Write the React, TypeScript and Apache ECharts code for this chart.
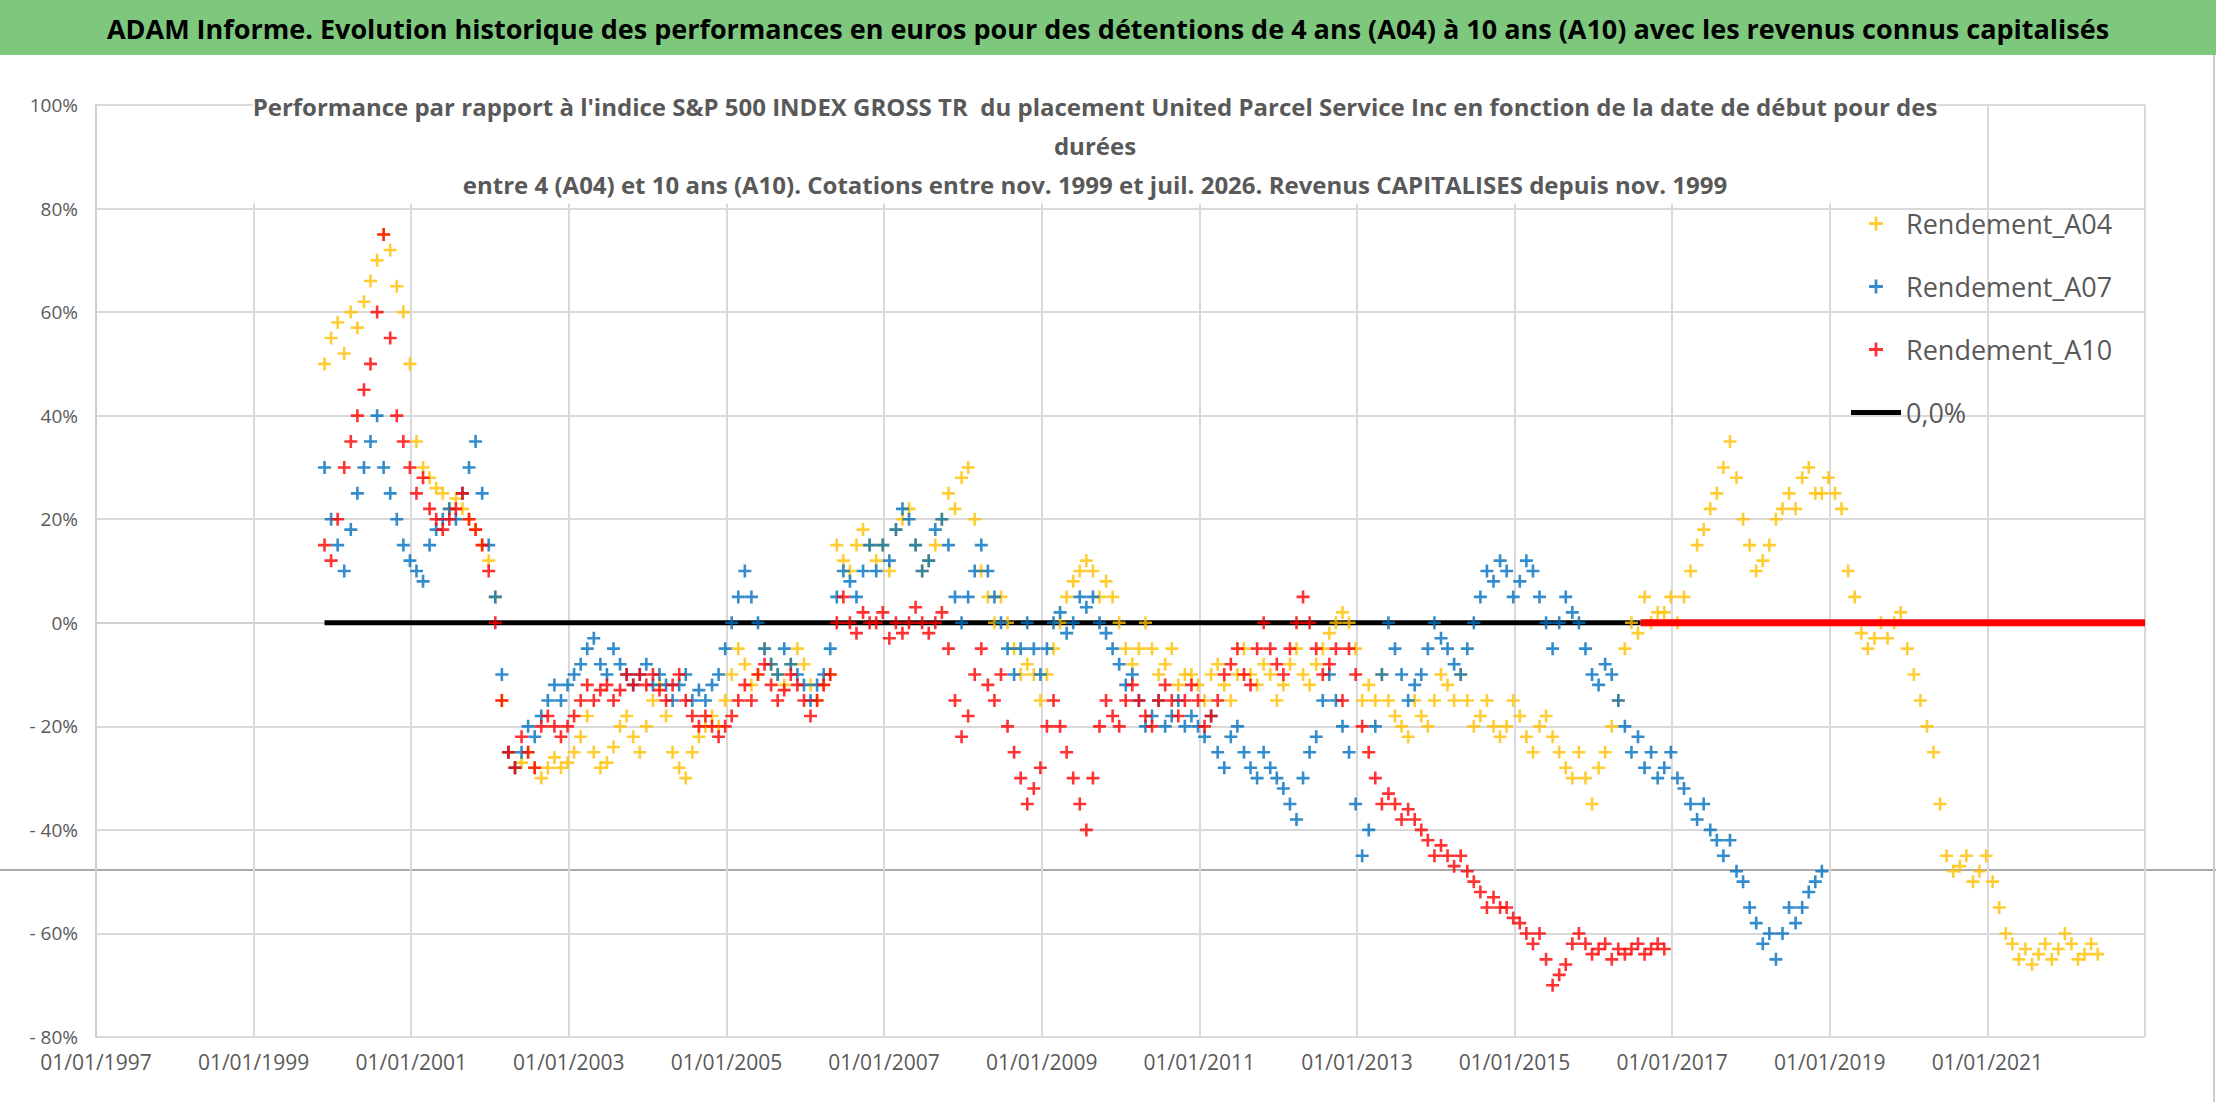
import React, { useEffect, useRef } from 'react';
import * as echarts from 'echarts';

// monthly values (%), first month = start year
const startA04 = 1999.9;
const rendementA04 = [
  50, 55, 58, 52, 60, 57, 62, 66, 70, 75, 72, 65,
  60, 50, 35, 30, 28, 26, 25, 22, 24, 22, 20, 18,
  15, 12, 5, -15, -25, -28, -27, -25, -28, -30, -28, -26,
  -28, -27, -25, -22, -18, -25, -28, -27, -24, -20, -18, -22,
  -25, -20, -15, -12, -18, -25, -28, -30, -25, -22, -20, -18,
  -20, -15, -10, -5, -8, -12, -10, -5, -8, -10, -12, -8,
  -5, -8, -12, -15, -12, -10, 15, 12, 10, 15, 18, 15,
  12, 15, 10, 18, 20, 22, 15, 10, 12, 15, 20, 25,
  22, 28, 30, 20, 10, 5, 0, 5, 0, -5, -10, -8,
  -10, -15, -10, -5, 0, 5, 8, 10, 12, 10, 5, 8,
  5, 0, -5, -8, -5, 0, -5, -10, -8, -5, -12, -10,
  -10, -12, -15, -10, -8, -12, -15, -10, -5, -10, -12, -8,
  -10, -15, -12, -8, -5, -10, -12, -8, -5, -2, 0, 2,
  0, -5, -15, -12, -15, -10, -15, -18, -20, -22, -15, -18,
  -20, -15, -10, -12, -15, -10, -15, -20, -18, -15, -20, -22,
  -20, -15, -18, -22, -25, -20, -18, -22, -25, -28, -30, -25,
  -30, -35, -28, -25, -20, -15, -5, 0, -2, 5, 0, 2,
  2, 5, 0, 5, 10, 15, 18, 22, 25, 30, 35, 28,
  20, 15, 10, 12, 15, 20, 22, 25, 22, 28, 30, 25,
  25, 28, 25, 22, 10, 5, -2, -5, -3, 0, -3, 0,
  2, -5, -10, -15, -20, -25, -35, -45, -48, -47, -45, -50,
  -48, -45, -50, -55, -60, -62, -65, -63, -66, -64, -62, -65,
  -63, -60, -62, -65, -64, -62, -64,
];

const startA07 = 1999.9;
const rendementA07 = [
  30, 20, 15, 10, 18, 25, 30, 35, 40, 30, 25, 20,
  15, 12, 10, 8, 15, 18, 20, 22, 20, 25, 30, 35,
  25, 15, 5, -10, -25, -28, -25, -20, -22, -18, -15, -12,
  -15, -12, -10, -8, -5, -3, -8, -10, -5, -8, -10, -12,
  -10, -8, -12, -10, -12, -15, -12, -10, -15, -13, -15, -12,
  -10, -5, 0, 5, 10, 5, 0, -5, -8, -10, -5, -8,
  -10, -12, -15, -12, -10, -5, 5, 10, 8, 5, 10, 15,
  10, 15, 12, 18, 22, 20, 15, 10, 12, 18, 20, 15,
  5, 0, 5, 10, 15, 10, 5, 0, -5, -10, -5, 0,
  -5, -10, -5, 0, 2, -2, 0, 5, 3, 5, 0, -2,
  -5, -8, -12, -10, -15, -20, -18, -15, -20, -18, -15, -20,
  -18, -20, -22, -18, -25, -28, -22, -20, -25, -28, -30, -25,
  -28, -30, -32, -35, -38, -30, -25, -22, -15, -10, -15, -20,
  -25, -35, -45, -40, -20, -10, 0, -5, -10, -15, -12, -10,
  -5, 0, -3, -5, -8, -10, -5, 0, 5, 10, 8, 12,
  10, 5, 8, 12, 10, 5, 0, -5, 0, 5, 2, 0,
  -5, -10, -12, -8, -10, -15, -20, -25, -22, -28, -25, -30,
  -28, -25, -30, -32, -35, -38, -35, -40, -42, -45, -42, -48,
  -50, -55, -58, -62, -60, -65, -60, -55, -58, -55, -52, -50,
  -48,
];

const startA10 = 1999.9;
const rendementA10 = [
  15, 12, 20, 30, 35, 40, 45, 50, 60, 75, 55, 40,
  35, 30, 25, 28, 22, 20, 18, 20, 22, 25, 20, 18,
  15, 10, 0, -15, -25, -28, -22, -25, -28, -20, -18, -20,
  -22, -20, -18, -15, -12, -15, -13, -12, -15, -13, -10, -12,
  -10, -12, -10, -13, -15, -12, -10, -15, -18, -20, -18, -20,
  -22, -20, -18, -15, -12, -15, -10, -8, -12, -15, -13, -10,
  -12, -15, -18, -15, -12, -10, 0, 5, 0, -2, 2, 0,
  0, 2, -3, 0, -2, 0, 3, 0, -2, 0, 2, -5,
  -15, -22, -18, -10, -5, -12, -15, -10, -20, -25, -30, -35,
  -32, -28, -20, -15, -20, -25, -30, -35, -40, -30, -20, -15,
  -18, -20, -15, -12, -15, -18, -20, -15, -12, -15, -18, -15,
  -12, -15, -20, -18, -15, -10, -8, -5, -10, -12, -5, 0,
  -5, -8, -10, -5, 0, 5, 0, -5, -10, -8, -5, -15,
  -5, -10, -20, -25, -30, -35, -33, -35, -38, -36, -38, -40,
  -42, -45, -43, -45, -47, -45, -48, -50, -52, -55, -53, -55,
  -55, -57, -58, -60, -62, -60, -65, -70, -68, -66, -62, -60,
  -62, -64, -63, -62, -65, -63, -64, -63, -62, -64, -63, -62,
  -63,
];

// zero segments: [from, to]
const zeroLine = [1999.9, 2016.6];
const zeroA10 = [2016.6, 2023];

const xTicks = { min: 1997, max: 2023, interval: 2 };
const yTicks = { min: -80, max: 100, interval: 20 };

const toPoints = (start: number, vals: number[]) =>
  vals.map((v, i) => [start + i / 12, v]);

const plus = 'path://M4,0H6V10H4ZM0,4H10V6H0Z';
const bar = 'path://M0,0H10V1H0Z';
const font = "'Open Sans', sans-serif";

const App: React.FC = () => {
  const chartRef = useRef<HTMLDivElement>(null);

  useEffect(() => {
    document.body.style.margin = '0';
    const chart = echarts.init(chartRef.current!, null, { renderer: 'svg' });

    const scatter = (name: string, color: string, data: number[][]) => ({
      name,
      type: 'scatter',
      symbol: plus,
      symbolSize: 13,
      itemStyle: { color },
      data,
      z: 3,
    });

    chart.setOption({
      animation: false,
      backgroundColor: '#fff',
      textStyle: { fontFamily: font },
      grid: { left: 96, right: 71, top: 105, bottom: 65 },
      graphic: [
        { type: 'rect', shape: { x: 0, y: 0, width: 2216, height: 55 }, style: { fill: '#7ec87e' } },
        {
          type: 'text', x: 1108, y: 28,
          style: {
            text: 'ADAM Informe. Evolution historique des performances en euros pour des détentions de 4 ans (A04) à 10 ans (A10) avec les revenus connus capitalisés',
            font: `bold 27px ${font}`, fill: '#000', align: 'center', verticalAlign: 'middle',
          },
        },
        { type: 'line', shape: { x1: 0, y1: 870, x2: 2216, y2: 870 }, style: { stroke: '#aaa', lineWidth: 2 } },
        { type: 'line', shape: { x1: 2214, y1: 55, x2: 2214, y2: 1102 }, style: { stroke: '#ccc', lineWidth: 2 } },
        {
          type: 'text', x: 1095, y: 145, z: 10,
          style: {
            text: "Performance par rapport à l'indice S&P 500 INDEX GROSS TR  du placement United Parcel Service Inc en fonction de la date de début pour des\ndurées\nentre 4 (A04) et 10 ans (A10). Cotations entre nov. 1999 et juil. 2026. Revenus CAPITALISES depuis nov. 1999",
            font: `bold 24px ${font}`, fill: '#595959', align: 'center', verticalAlign: 'middle',
            lineHeight: 39, backgroundColor: '#fff',
          },
        },
      ],
      legend: {
        orient: 'vertical',
        left: 1846,
        top: 205,
        itemGap: 36,
        itemWidth: 50,
        itemHeight: 14,
        textStyle: { fontSize: 27, color: '#595959', fontFamily: font },
        data: [
          { name: 'Rendement_A04', icon: plus },
          { name: 'Rendement_A07', icon: plus },
          { name: 'Rendement_A10', icon: plus },
          { name: '0,0%', icon: bar, itemStyle: { color: '#000' } },
        ],
      },
      xAxis: {
        type: 'value',
        ...xTicks,
        axisLine: { show: true, lineStyle: { color: '#d0d0d0', width: 2 } },
        axisTick: { show: false },
        splitLine: { show: true, lineStyle: { color: '#d9d9d9', width: 2 } },
        axisLabel: {
          showMaxLabel: false,
          fontSize: 21, color: '#595959', margin: 14,
          formatter: (v: number) => `01/01/${v}`,
        },
      },
      yAxis: {
        type: 'value',
        ...yTicks,
        axisLine: { show: true, lineStyle: { color: '#d0d0d0', width: 2 } },
        axisTick: { show: false },
        splitLine: { lineStyle: { color: '#d9d9d9', width: 2 } },
        axisLabel: {
          fontSize: 19, color: '#595959', margin: 18,
          formatter: (v: number) => (v < 0 ? `- ${-v}%` : `${v}%`),
        },
      },
      series: [
        {
          name: '0,0%', type: 'line', symbol: 'none', z: 2,
          lineStyle: { color: '#000', width: 5 }, itemStyle: { color: '#000' },
          data: zeroLine.map((x) => [x, 0]),
        },
        scatter('Rendement_A04', '#FFC000', toPoints(startA04, rendementA04)),
        scatter('Rendement_A07', '#0070C0', toPoints(startA07, rendementA07)),
        scatter('Rendement_A10', '#FF0000', toPoints(startA10, rendementA10)),
        {
          name: 'Rendement_A10', type: 'line', symbol: 'none', z: 4,
          lineStyle: { color: '#FF0000', width: 7 },
          data: zeroA10.map((x) => [x, 0]),
        },
      ],
    });

    return () => chart.dispose();
  }, []);

  return <div ref={chartRef} style={{ width: '2216px', height: '1102px' }} />;
};

export default App;
